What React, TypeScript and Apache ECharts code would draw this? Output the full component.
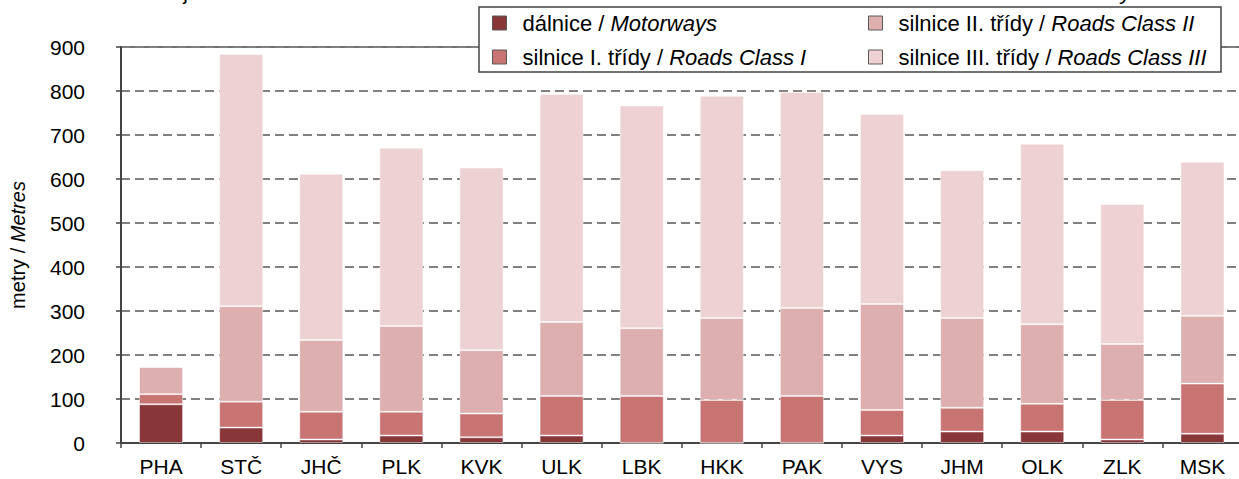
import React, { useEffect, useRef } from "react";
import * as echarts from "echarts";

const categories = ["PHA", "STČ", "JHČ", "PLK", "KVK", "ULK", "LBK", "HKK", "PAK", "VYS", "JHM", "OLK", "ZLK", "MSK"];
const motorways = [88, 35, 8, 17, 13, 17, 0, 0, 0, 17, 26, 26, 8, 21];
const roadsClass1 = [23, 59, 63, 54, 54, 90, 107, 98, 107, 58, 54, 63, 90, 114];
const roadsClass2 = [62, 217, 163, 195, 144, 168, 154, 186, 200, 241, 204, 181, 127, 154];
const roadsClass3 = [0, 573, 378, 405, 415, 518, 506, 505, 491, 432, 336, 410, 318, 350];
const seriesNames = [
  "dálnice / Motorways",
  "silnice I. třídy / Roads Class I",
  "silnice II. třídy / Roads Class II",
  "silnice III. třídy / Roads Class III",
];
const colors = ["#893639", "#C77473", "#DDAFAF", "#EDD1D3"];
const yTicks = [0, 100, 200, 300, 400, 500, 600, 700, 800, 900];

const FONT = "'Liberation Sans', Arial, sans-serif";
const FS = 21;
const LFS = 22;

export default function App() {
  const ref = useRef<HTMLDivElement>(null);
  useEffect(() => {
    if (!ref.current) return;
    const chart = echarts.init(ref.current, null, { renderer: "svg" });
    const data = [motorways, roadsClass1, roadsClass2, roadsClass3];
    const legendRich = {
      a: { fontFamily: FONT, fontSize: LFS, color: "#000", padding: [0, 0, 0, 11], lineHeight: 21 },
      b: { fontFamily: FONT, fontSize: LFS, color: "#000", fontStyle: "italic", lineHeight: 21 },
    };
    const fmt = (name: string) => {
      const [cz, en] = name.split(" / ");
      return `{a|${cz} / }{b|${en}}`;
    };
    const legendCommon = {
      orient: "vertical",
      itemWidth: 14,
      itemHeight: 14,
      itemGap: 12,
      icon: "rect",
      z: 20,
      textStyle: { fontFamily: FONT, fontSize: LFS, color: "#000", lineHeight: 21, rich: legendRich },
      itemStyle: { borderColor: "#5a5a5a", borderWidth: 1 },
      formatter: fmt,
      selectedMode: false,
      padding: 0,
    };
    chart.setOption({
      animation: false,
      backgroundColor: "#fff",
      textStyle: { fontFamily: FONT },
      grid: {
        left: 115.5,
        right: 2.5,
        top: 47,
        bottom: 36,
        show: true,
        borderColor: "#444",
        borderWidth: 1.5,
        backgroundColor: "transparent",
      },
      legend: [
        { ...legendCommon, data: [seriesNames[0], seriesNames[1]], left: 492, top: 12 },
        { ...legendCommon, data: [seriesNames[2], seriesNames[3]], left: 868, top: 12 },
      ],
      graphic: [
        {
          type: "rect",
          z: 10,
          shape: { x: 479, y: 7, width: 742, height: 65 },
          style: { fill: "#fff", stroke: "#444", lineWidth: 1.5 },
        },
        {
          type: "text",
          z: 10,
          x: 140,
          y: 3,
          style: {
            text: "Zdroj: Ředitelství silnic a dálnic ČR",
            font: `${FS}px ${FONT}`,
            fill: "#000",
            textVerticalAlign: "bottom",
          },
        },
        {
          type: "text",
          z: 10,
          x: 865,
          y: 3,
          style: {
            text: "Source: Road and Motorway Directorate of the Czech Republic",
            font: `italic ${FS}px ${FONT}`,
            fill: "#000",
            textVerticalAlign: "bottom",
          },
        },
      ],
      xAxis: {
        type: "category",
        data: categories,
        axisLine: { lineStyle: { color: "#444", width: 2 } },
        axisTick: { show: true, length: 5, lineStyle: { color: "#444", width: 1.5 } },
        axisLabel: { fontFamily: FONT, fontSize: FS, color: "#000", margin: 13 },
      },
      yAxis: {
        type: "value",
        min: 0,
        max: 900,
        interval: 100,
        name: "{a|metry / }{b|Metres}",
        nameLocation: "middle",
        nameRotate: 90,
        nameGap: 93,
        nameTextStyle: {
          rich: {
            a: { fontFamily: FONT, fontSize: 20, color: "#000" },
            b: { fontFamily: FONT, fontSize: 20, color: "#000", fontStyle: "italic" },
          },
        },
        axisLine: { show: true, lineStyle: { color: "#444", width: 2 } },
        axisTick: { show: true, length: 5, lineStyle: { color: "#444", width: 1.5 } },
        axisLabel: {
          fontFamily: FONT,
          fontSize: FS,
          color: "#000",
          margin: 36,
          formatter: (v: number) => (yTicks.includes(v) ? String(v) : ""),
        },
        splitLine: { show: true, lineStyle: { color: "#808080", width: 2, type: [9, 5] } },
      },
      series: data.map((d, i) => ({
        name: seriesNames[i],
        type: "bar",
        stack: "total",
        data: d,
        barWidth: 44,
        itemStyle: { color: colors[i], borderColor: "rgba(255,255,255,0.45)", borderWidth: 1 },
      })),
    });
    return () => chart.dispose();
  }, []);
  return (
    <div style={{ position: "fixed", left: 0, top: 0, width: 1239, height: 479, overflow: "hidden", background: "#fff" }}>
      <div ref={ref} style={{ width: 1245, height: 479 }} />
    </div>
  );
}
